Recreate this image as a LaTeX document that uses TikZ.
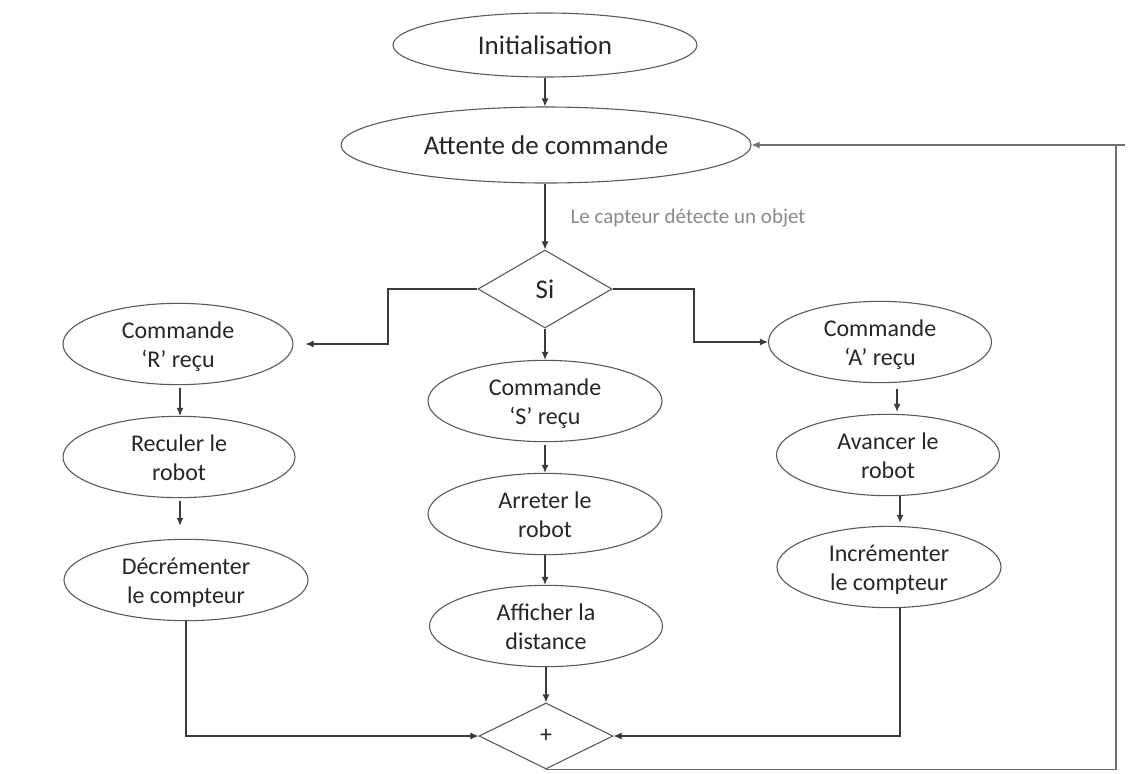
\documentclass[tikz,border=0pt]{standalone}
\usepackage{fontspec}
\setmainfont{Carlito}
\usetikzlibrary{shapes.geometric,arrows.meta}
\definecolor{ln}{HTML}{3A3A3A}
\definecolor{rl}{HTML}{707070}
\definecolor{eb}{HTML}{5A5A5A}
\definecolor{tx}{HTML}{262626}
\definecolor{lb}{HTML}{8A8A8A}
\newcommand\twol[2]{\rule{0pt}{23pt}#1\\#2\rule[-5pt]{0pt}{5pt}}
\begin{document}
\begin{tikzpicture}[x=1pt,y=-1pt,
  ell/.style={ellipse, draw=eb, line width=1.1pt, inner sep=0pt, text=tx, align=center, font=\fontsize{24}{29.5}\selectfont},
  big/.style={font=\fontsize{27}{32}\selectfont},
  dia/.style={diamond, draw=eb, line width=1.1pt, inner sep=0pt, text=tx},
  arr/.style={draw=ln, line width=1.1pt, -{Latex[length=8pt,width=7pt]}},
  conn/.style={draw=rl, line width=1.3pt}]
\useasboundingbox (0,0) rectangle (1141,774);

\node[ell, big, minimum width=304, minimum height=64] (init) at (545,45) {Initialisation};
\node[ell, big, minimum width=410, minimum height=76] (att) at (546,145) {Attente de commande};
\node[dia, big, minimum width=134, minimum height=78] (si) at (545,289) {Si};
\node[anchor=west, text=lb, font=\fontsize{21}{25}\selectfont] (lbl) at (567,218) {Le capteur détecte un objet};

\node[ell, minimum width=230, minimum height=78] (R) at (178,344) {\twol{Commande}{‘R’ reçu}};
\node[ell, minimum width=232, minimum height=80] (rec) at (179,457) {\twol{Reculer le}{robot}};
\node[ell, minimum width=244, minimum height=71] (dec) at (186,580) {\twol{Décrémenter}{le compteur}};

\node[ell, minimum width=234, minimum height=78] (S) at (545,401) {\twol{Commande}{‘S’ reçu}};
\node[ell, minimum width=234, minimum height=78] (stop) at (545,514) {\twol{Arreter le}{robot}};
\node[ell, minimum width=233, minimum height=77] (aff) at (546,626) {\twol{Afficher la}{distance}};

\node[ell, minimum width=223, minimum height=78] (A) at (880,342) {\twol{Commande}{‘A’ reçu}};
\node[ell, minimum width=223, minimum height=75] (av) at (888,455) {\twol{Avancer le}{robot}};
\node[ell, minimum width=224, minimum height=75] (inc) at (889,567) {\twol{Incrémenter}{le compteur}};

\node[dia, font=\fontsize{24}{28}\selectfont, minimum width=134, minimum height=66] (plus) at (546,736) {+};

\coordinate (lk) at (388,289);
\coordinate (rk) at (694,289);
\coordinate (lc) at (180,0);
\coordinate (rc1) at (897,0);
\coordinate (rc2) at (900,0);
\coordinate (rt) at (1116,145);
\coordinate (rt2) at (1125,145);

\draw[arr] (init.south) -- (init.south |- att.north);
\draw[arr] (att.south -| si.north) -- (si.north);
\draw[arr] (si.west) -- (lk) |- ([xshift=12pt]R.east);
\draw[arr] (si.east) -- (rk) |- (A.west);
\draw[arr] (si.south) -- (si.south |- S.north);

\draw[arr, shorten <=3pt] (R.south -| lc) -- (rec.north -| lc);
\draw[arr, shorten <=3pt, shorten >=13pt] (rec.south -| lc) -- (dec.north -| lc);

\draw[arr, shorten <=3pt] (S.south) -- (S.south |- stop.north);
\draw[arr] (stop.south) -- (stop.south |- aff.north);
\draw[arr] (aff.south) -- (aff.south |- plus.north);

\draw[arr, shorten <=6pt, shorten >=2pt] (A.south -| rc1) -- (av.north -| rc1);
\draw[arr, shorten >=3pt] (av.south -| rc2) -- (inc.north -| rc2);

\draw[arr] (dec.south) |- (plus.west);
\draw[arr] (inc.south -| rc2) |- (plus.east);

\draw[conn] (plus.south) -| (rt);
\draw[arr, draw=rl, line width=1.3pt] (rt2) -- (att.east);
\end{tikzpicture}
\end{document}
